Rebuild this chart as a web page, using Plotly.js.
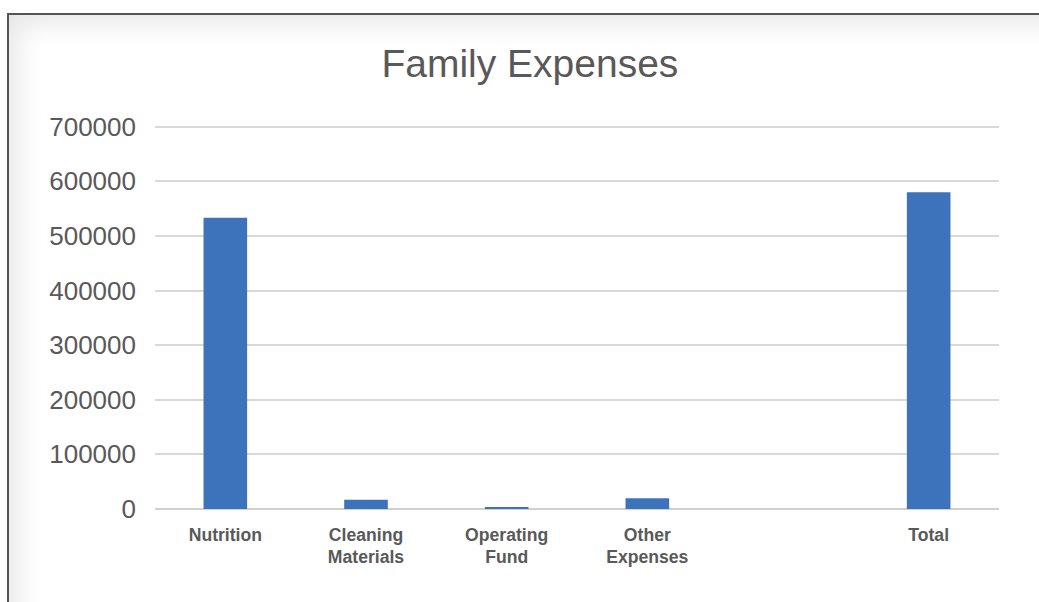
<!DOCTYPE html>
<html>
<head>
<meta charset="utf-8">
<script src="https://cdn.plot.ly/plotly-3.0.1.min.js"></script>
<style>
  html, body { margin: 0; padding: 0; background: #ffffff; overflow: hidden; }
  #frame {
    position: absolute; left: 7px; top: 13px; width: 1040px; height: 600px;
    border-top: 2px solid #555555; border-left: 2px solid #555555;
    box-shadow: inset 22px 22px 28px -14px rgba(0,0,0,0.10);
    background: #ffffff;
  }
  #chart { position: absolute; left: 0; top: 0; width: 1039px; height: 602px; }
</style>
</head>
<body>
<div id="frame"></div>
<div id="chart"></div>
<script>
const categories = ["Nutrition", "Cleaning<br>Materials", "Operating<br>Fund", "Other<br>Expenses", " ", "Total"];
const expenses = [533000, 17000, 3500, 19500, null, 580000];
const yTickValues = [0, 100000, 200000, 300000, 400000, 500000, 600000, 700000];
const yTickLabels = ["0", "100000", "200000", "300000", "400000", "500000", "600000", "700000"];

const trace = {
  type: "bar",
  x: categories,
  y: expenses,
  marker: { color: "#3c73bb" },
  hoverinfo: "x+y"
};

const layout = {
  width: 1039,
  height: 602,
  margin: { l: 155, r: 40, t: 125, b: 92.5 },
  paper_bgcolor: "rgba(0,0,0,0)",
  plot_bgcolor: "rgba(0,0,0,0)",
  bargap: 0.69,
  showlegend: false,
  title: {
    text: "Family Expenses",
    font: { family: "Liberation Sans, Arial, sans-serif", size: 39, color: "#595959" },
    x: 0.51, xanchor: "center",
    y: 0.895, yanchor: "middle"
  },
  xaxis: {
    type: "category",
    showgrid: false,
    showline: false,
    zeroline: false,
    ticks: "",
    tickfont: { family: "Liberation Sans, Arial, sans-serif", size: 17.6, color: "#595959", weight: "bold" },
    ticklabelstandoff: 13
  },
  yaxis: {
    range: [0, 703000],
    tickvals: yTickValues,
    ticktext: yTickLabels,
    showgrid: true,
    gridcolor: "#d9d9d9",
    gridwidth: 1.5,
    zeroline: true,
    zerolinecolor: "#d0d0d0",
    zerolinewidth: 1.5,
    showline: false,
    ticks: "",
    tickfont: { family: "Liberation Sans, Arial, sans-serif", size: 26, color: "#595959" },
    ticklabelstandoff: 18
  }
};

Plotly.newPlot("chart", [trace], layout, { displayModeBar: false });
</script>
</body>
</html>
